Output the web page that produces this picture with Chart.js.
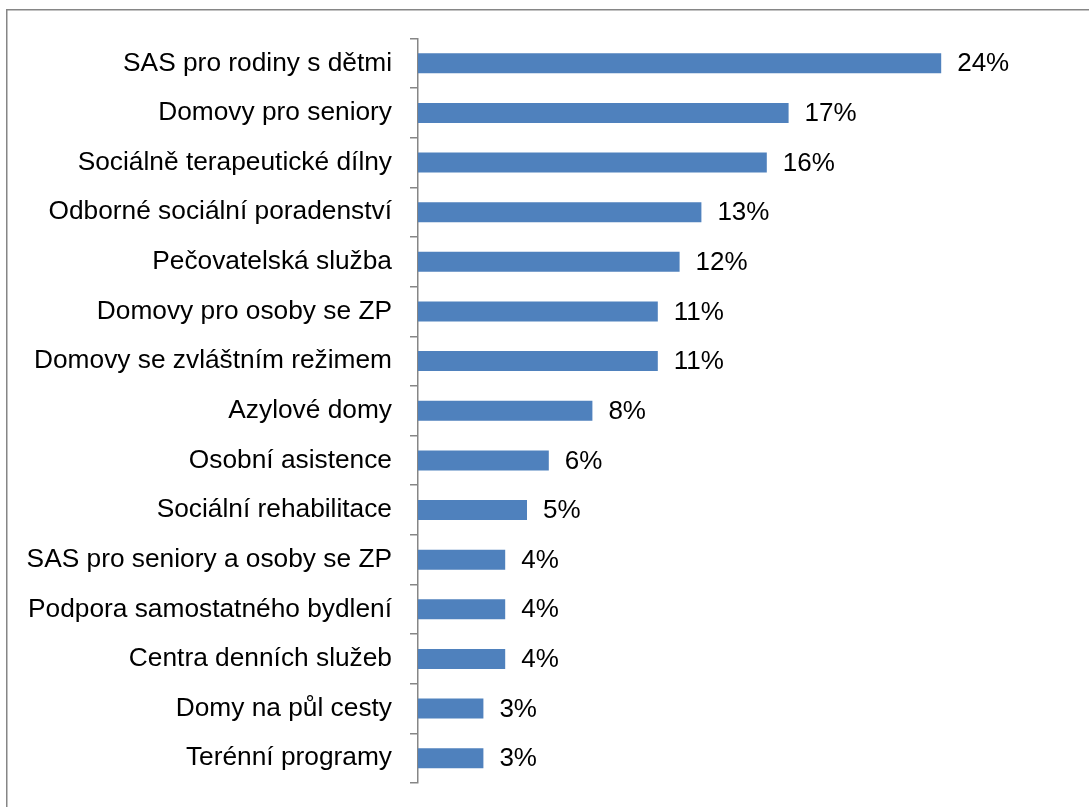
<!DOCTYPE html>
<html>
<head>
<meta charset="utf-8">
<script src="https://cdn.jsdelivr.net/npm/chart.js@4/dist/chart.umd.min.js"></script>
<style>
html,body{margin:0;padding:0;background:#fff;}
#wrap{position:relative;width:1089px;height:807px;}
</style>
</head>
<body>
<div id="wrap"><canvas id="c" width="1089" height="807"></canvas></div>
<script>
const categories = [
  "SAS pro rodiny s dětmi",
  "Domovy pro seniory",
  "Sociálně terapeutické dílny",
  "Odborné sociální poradenství",
  "Pečovatelská služba",
  "Domovy pro osoby se ZP",
  "Domovy se zvláštním režimem",
  "Azylové domy",
  "Osobní asistence",
  "Sociální rehabilitace",
  "SAS pro seniory a osoby se ZP",
  "Podpora samostatného bydlení",
  "Centra denních služeb",
  "Domy na půl cesty",
  "Terénní programy"
];
const values = [24, 17, 16, 13, 12, 11, 11, 8, 6, 5, 4, 4, 4, 3, 3];
const valueLabels = ["24%","17%","16%","13%","12%","11%","11%","8%","6%","5%","4%","4%","4%","3%","3%"];

const FONT = "'Liberation Sans', Arial, sans-serif";

const framePlugin = {
  id: 'frame',
  beforeDraw(chart) {
    const ctx = chart.ctx;
    ctx.save();
    ctx.fillStyle = '#fff';
    ctx.fillRect(0, 0, chart.width, chart.height);
    ctx.strokeStyle = '#868686';
    ctx.lineWidth = 1.5;
    ctx.beginPath();
    ctx.moveTo(6.75, chart.height + 5);
    ctx.lineTo(6.75, 9.75);
    ctx.lineTo(chart.width + 5, 9.75);
    ctx.stroke();
    ctx.restore();
  }
};

const valueLabelPlugin = {
  id: 'valueLabels',
  afterDatasetsDraw(chart) {
    const ctx = chart.ctx;
    const meta = chart.getDatasetMeta(0);
    ctx.save();
    ctx.font = '26px ' + FONT;
    ctx.fillStyle = '#000';
    ctx.textAlign = 'left';
    ctx.textBaseline = 'middle';
    meta.data.forEach((bar, i) => {
      ctx.fillText(valueLabels[i], bar.x + 16, bar.y + 1);
    });
    ctx.restore();
  }
};

new Chart(document.getElementById('c'), {
  type: 'bar',
  data: {
    labels: categories,
    datasets: [{
      data: values,
      backgroundColor: '#4F81BD',
      borderWidth: 0,
      categoryPercentage: 1,
      barPercentage: 0.403
    }]
  },
  options: {
    indexAxis: 'y',
    responsive: false,
    animation: false,
    devicePixelRatio: 1,
    layout: { padding: { top: 38.5, right: 17, bottom: 24, left: 0 } },
    plugins: {
      legend: { display: false },
      tooltip: { enabled: false }
    },
    scales: {
      x: {
        display: false,
        min: 0,
        max: 30
      },
      y: {
        afterFit(scale) {
          scale.width = 418;
          scale.paddingTop = 0;
          scale.paddingBottom = 0;
        },
        grid: {
          display: true,
          drawOnChartArea: false,
          drawTicks: true,
          tickLength: 8,
          offset: true,
          color: '#868686',
          lineWidth: 1.5
        },
        border: { display: true, color: '#868686', width: 1.5 },
        ticks: {
          color: '#000',
          padding: 18,
          font: { family: FONT, size: 26.3 }
        }
      }
    }
  },
  plugins: [framePlugin, valueLabelPlugin]
});
</script>
</body>
</html>
